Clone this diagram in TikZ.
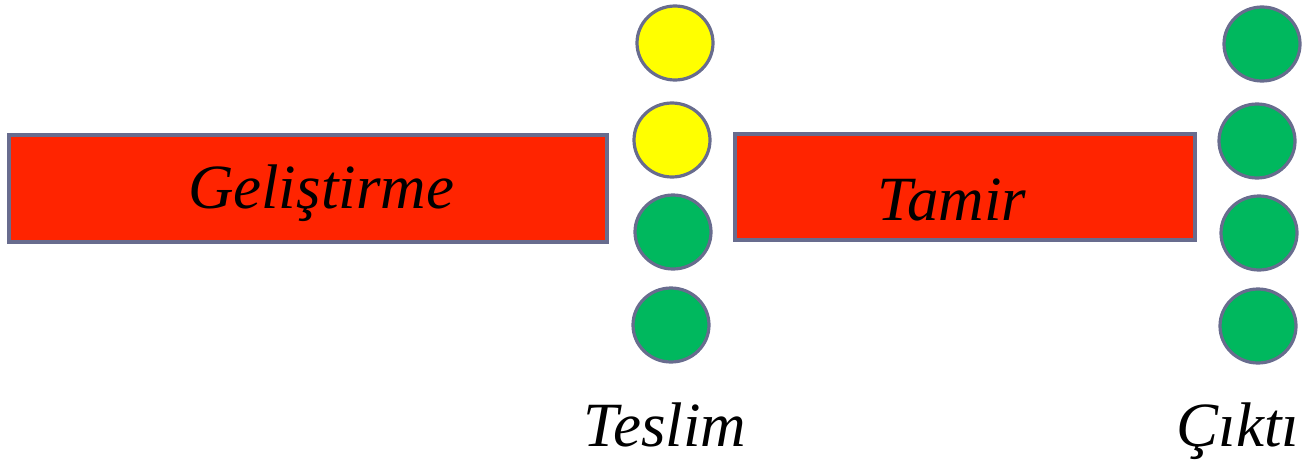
\documentclass[tikz,border=0pt]{standalone}
\usepackage{fontspec}
\setmainfont{Liberation Serif}
\definecolor{edge}{HTML}{686C8E}
\definecolor{redfill}{HTML}{FF2400}
\definecolor{yel}{HTML}{FFFF00}
\definecolor{grn}{HTML}{00B85E}
\begin{document}
\begin{tikzpicture}[x=1pt,y=-1pt,
  bar/.style={draw=edge,line width=3.2pt,fill=redfill},
  dot/.style={draw=edge,line width=3.2pt},
  lbl/.style={font=\fontsize{63}{72}\selectfont\itshape,anchor=base,inner sep=0pt}]
\useasboundingbox (0,0) rectangle (1305,466);
% bars
\draw[bar] (9,135) rectangle (607,242);
\draw[bar] (735,134) rectangle (1195,240);
\node[lbl] (gel) at (321,208) {Geliştirme};
\node[lbl] (tam) at (952,220) {Tamir};
% column 1
\draw[dot,fill=yel] (675,43) ellipse [x radius=38,y radius=37];
\draw[dot,fill=yel] (672,140) ellipse [x radius=38,y radius=37];
\draw[dot,fill=grn] (673,232) ellipse [x radius=38,y radius=37];
\draw[dot,fill=grn] (671,325) ellipse [x radius=38,y radius=37];
% column 2
\draw[dot,fill=grn] (1262,44) ellipse [x radius=38,y radius=37];
\draw[dot,fill=grn] (1257,141) ellipse [x radius=38,y radius=37];
\draw[dot,fill=grn] (1259,233) ellipse [x radius=38,y radius=37];
\draw[dot,fill=grn] (1258,326) ellipse [x radius=38,y radius=37];
% labels
\node[lbl] (tes) at (665,446) {Teslim};
\node[lbl] (cik) at (1238,446) {Çıktı};
\end{tikzpicture}
\end{document}
